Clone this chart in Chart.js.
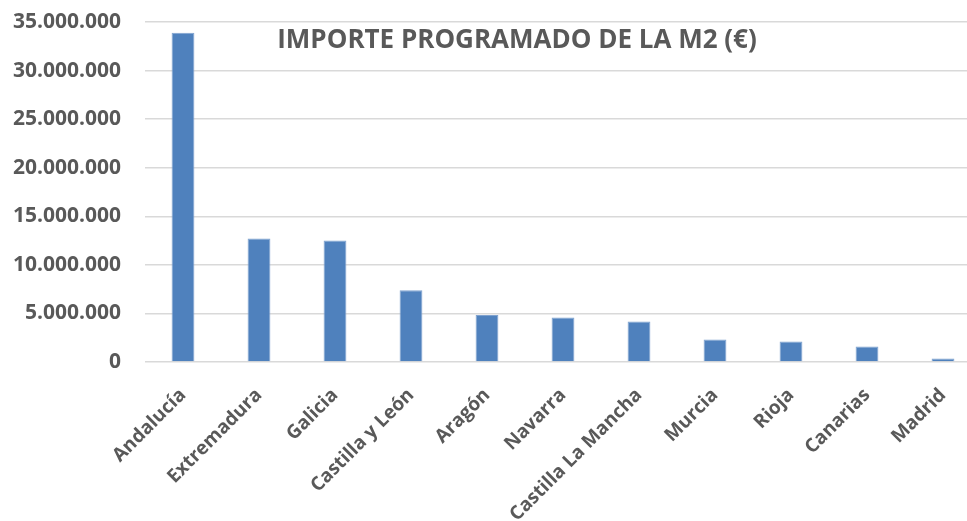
<!DOCTYPE html>
<html>
<head>
<meta charset="utf-8">
<script src="https://cdn.jsdelivr.net/npm/chart.js@4.4.0/dist/chart.umd.min.js"></script>
<style>
    html, body { margin: 0; padding: 0; background: #fff; overflow: hidden; }
    #wrap { width: 967px; height: 521px; overflow: hidden; }
</style>
</head>
<body>
<div id="wrap">
    <canvas id="grafica-importe" width="990" height="521"></canvas>
</div>
<script>
const comunidades = [
    'Andalucía',
    'Extremadura',
    'Galicia',
    'Castilla y León',
    'Aragón',
    'Navarra',
    'Castilla La Mancha',
    'Murcia',
    'Rioja',
    'Canarias',
    'Madrid',
];
const importes = [33900000, 12710000, 12510000, 7390000, 4840000, 4570000, 4160000, 2310000, 2100000, 1590000, 350000];
const ticksEjeY = [0, 5000000, 10000000, 15000000, 20000000, 25000000, 30000000, 35000000];
const titulo = 'IMPORTE PROGRAMADO DE LA M2 (€)';

const colorTexto = '#595959';
const fuente = "'Open Sans', 'DejaVu Sans', sans-serif";

// formato con puntos de miles (35.000.000)
const formatoMiles = (v) => String(Math.round(v)).replace(/\B(?=(\d{3})+(?!\d))/g, '.');

// titulo dentro del area del grafico
const tituloInterno = {
    id: 'tituloInterno',
    afterDraw(chart) {
        const ctx = chart.ctx;
        ctx.save();
        ctx.font = "bold 26px " + fuente;
        ctx.fillStyle = colorTexto;
        ctx.textAlign = 'center';
        ctx.textBaseline = 'middle';
        ctx.fillText(titulo, 517, 41);
        ctx.restore();
    }
};

const graficaCanvas = document.getElementById('grafica-importe');

const chart = new Chart(graficaCanvas, {
    type: 'bar',
    data: {
        labels: comunidades,
        datasets: [{
            label: 'Importe programado',
            data: importes,
            backgroundColor: '#4F81BD',
            borderColor: '#7FA2CF',
            borderWidth: 1,
            categoryPercentage: 1,
            barPercentage: 0.30
        }]
    },
    options: {
        responsive: false,
        animation: false,
        layout: {
            padding: { top: 22, right: 9, left: 0, bottom: 0 }
        },
        plugins: {
            legend: { display: false },
            tooltip: { enabled: false }
        },
        scales: {
            x: {
                grid: { display: false },
                border: { display: false },
                ticks: {
                    color: colorTexto,
                    font: { family: fuente, size: 19, weight: 'bold' },
                    minRotation: 45,
                    maxRotation: 45,
                    autoSkip: false,
                    padding: 14
                },
                afterFit(scale) {
                    scale.height = 159;
                    scale.paddingLeft = 0;
                    scale.paddingRight = 0;
                }
            },
            y: {
                min: 0,
                max: 35000000,
                afterBuildTicks(scale) {
                    scale.ticks = ticksEjeY.map(v => ({ value: v }));
                },
                grid: {
                    color: '#D9D9D9',
                    lineWidth: 1.5,
                    drawTicks: false
                },
                border: { display: false },
                ticks: {
                    color: colorTexto,
                    font: { family: fuente, size: 21, weight: 'bold' },
                    padding: 24,
                    callback: (v) => formatoMiles(v)
                },
                afterFit(scale) {
                    scale.width = 145;
                    scale.paddingTop = 0;
                    scale.paddingBottom = 0;
                }
            }
        }
    },
    plugins: [tituloInterno]
});
</script>
</body>
</html>
